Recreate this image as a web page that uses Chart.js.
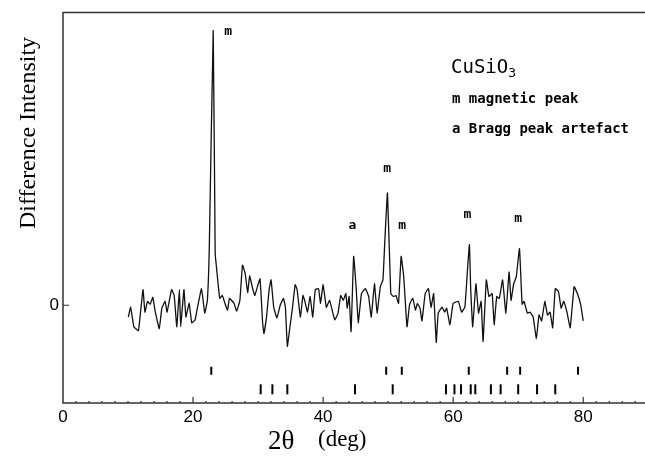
<!DOCTYPE html>
<html>
<head>
<meta charset="utf-8">
<script src="https://cdn.jsdelivr.net/npm/chart.js@4"></script>
<style>
  html, body { margin: 0; padding: 0; background: #fff; overflow: hidden; }
  canvas { display: block; }
</style>
</head>
<body>
<canvas id="chart-1" width="645" height="460"></canvas>
<script>
// 2theta (deg) and difference intensity (arbitrary units, 0 = baseline)
const twoTheta = [10.05, 10.4, 10.9, 11.6, 12.3, 12.6, 13.0, 13.4, 13.8, 14.2, 14.8, 15.2, 15.7, 16.0, 16.7, 17.1, 17.5, 17.9, 18.1, 18.6,
  18.9, 19.4, 19.8, 20.3, 20.6, 21.3, 21.8, 22.2, 22.5, 23.1, 23.4, 23.6, 24.1, 24.5, 24.9, 25.3, 25.6, 26.3, 26.7, 27.2,
  27.6, 28.0, 28.4, 28.7, 29.2, 29.5, 29.9, 30.3, 30.7, 30.9, 31.3, 31.7, 32.0, 32.4, 32.9, 33.4, 33.9, 34.2, 34.5, 34.9,
  35.3, 35.7, 36.0, 36.5, 36.9, 37.2, 37.6, 38.0, 38.4, 38.8, 39.3, 39.6, 40.0, 40.5, 41.0, 41.5, 41.8, 42.3, 42.7, 43.1,
  43.5, 43.7, 44.0, 44.3, 44.7, 45.1, 45.4, 45.9, 46.5, 47.0, 47.4, 47.9, 48.3, 48.8, 49.2, 49.5, 49.9, 50.4, 50.8, 51.2,
  51.6, 52.0, 52.4, 52.9, 53.3, 53.8, 54.2, 54.5, 54.9, 55.2, 55.7, 56.2, 56.6, 57.0, 57.4, 57.7, 58.3, 58.7, 59.0, 59.5,
  60.0, 60.8, 61.3, 61.8, 62.2, 62.5, 62.7, 63.0, 63.5, 63.9, 64.3, 64.6, 65.1, 65.5, 66.0, 66.3, 66.7, 67.1, 67.6, 68.1,
  68.6, 68.9, 69.3, 69.7, 70.2, 70.6, 70.9, 71.4, 71.8, 72.3, 72.8, 73.2, 73.6, 74.1, 74.5, 74.9, 75.3, 75.7, 76.2, 76.6,
  77.0, 77.5, 78.0, 78.6, 79.1, 79.6, 80.0];
const intensity = [-12, -2, -22, -26, 16, -7, 4, 1, 8, -7, -24, -3, 4, -7, 16, 10, -22, 16, -22, 16,
  -12, 2, -18, -15, -5, 17, -8, 5, 60, 281, 53, 39, 7, 10, 2, -5, 7, 2, -6, 5,
  41, 33, 13, 30, 16, 10, 19, 27, -18, -29, -12, 16, 26, -2, -13, 0, 7, -2, -42, -22,
  -2, 21, 16, -12, 10, 4, -7, 9, -12, 16, 17, 2, 21, -2, 5, -8, -15, -8, 10, 5,
  12, -3, 9, -27, 50, 16, -18, 12, 17, 9, -12, 22, -8, 19, 26, 67, 115, 12, 9, 10,
  2, 50, 29, -22, 1, 7, -5, 2, -3, -16, 12, 17, -2, 12, -38, -8, -2, -7, -3, -20,
  2, 4, -7, -2, 36, 62, 16, -22, 22, -8, 4, -37, 26, 9, 12, -20, 9, 7, 26, -8,
  34, 5, 22, 29, 58, 1, 4, -8, -7, -12, -34, -10, -16, 4, -10, -7, -23, 17, 14, -3,
  4, -7, -23, 19, 12, 1, -16];

// Reflection positions (deg): magnetic row and nuclear row
const magneticRefl = [22.8, 49.7, 52.1, 62.4, 68.3, 70.3, 79.2];
const braggRefl = [30.4, 32.2, 34.5, 44.9, 50.7, 58.9, 60.2, 61.2, 62.7, 63.4, 65.8, 67.3, 70.0, 72.9, 75.7];
const magneticRow = -67;
const braggRow = -86;

// peak annotations
const peakLabels = [
  { x: 25.4, y: 280, text: "m" },
  { x: 49.85, y: 140, text: "m" },
  { x: 52.15, y: 81, text: "m" },
  { x: 62.2, y: 93, text: "m" },
  { x: 70.0, y: 89, text: "m" },
  { x: 44.5, y: 81, text: "a" },
];

const xTickLabels = [0, 20, 40, 60, 80];
const yTickLabels = [0];

const axesPlugin = {
  id: "axes",
  afterDraw(chart) {
    const ctx = chart.ctx;
    const xs = chart.scales.x, ys = chart.scales.y;
    const a = chart.chartArea;
    ctx.save();
    ctx.strokeStyle = "#333";
    ctx.lineWidth = 1.5;
    ctx.beginPath();
    ctx.moveTo(a.left, a.top + 0.5);
    ctx.lineTo(a.right, a.top + 0.5);
    ctx.moveTo(a.left, a.top);
    ctx.lineTo(a.left, a.bottom);
    ctx.lineTo(a.right, a.bottom);
    ctx.stroke();

    // x ticks pointing inward
    ctx.lineWidth = 1.2;
    ctx.beginPath();
    for (let v = 2; v <= 88; v += 2) {
      const px = xs.getPixelForValue(v);
      const len = v % 20 === 0 ? 6 : 2;
      ctx.moveTo(px, a.bottom);
      ctx.lineTo(px, a.bottom - len);
    }
    for (const v of yTickLabels) {
      const py = ys.getPixelForValue(v);
      ctx.moveTo(a.left, py);
      ctx.lineTo(a.left + 6, py);
    }
    ctx.stroke();

    ctx.fillStyle = "#000";
    ctx.font = "17px 'Liberation Sans', Arial, sans-serif";
    ctx.textAlign = "center";
    ctx.textBaseline = "middle";
    for (const v of xTickLabels) {
      ctx.fillText(String(v), xs.getPixelForValue(v), a.bottom + 14);
    }
    ctx.textAlign = "right";
    for (const v of yTickLabels) {
      ctx.fillText(String(v), a.left - 4, ys.getPixelForValue(v));
    }

    // axis titles
    ctx.font = "24px 'Liberation Serif', 'Times New Roman', serif";
    ctx.textAlign = "center";
    ctx.save();
    ctx.translate(29, 133);
    ctx.rotate(-Math.PI / 2);
    ctx.fillText("Difference Intensity", 0, 0);
    ctx.restore();
    ctx.textAlign = "left";
    ctx.textBaseline = "alphabetic";
    ctx.font = "27px 'Liberation Serif', 'Times New Roman', serif";
    ctx.fillText("2\u03b8", 268, 449);
    ctx.font = "23px 'Liberation Serif', 'Times New Roman', serif";
    ctx.fillText("(deg)", 318, 446);

    // peak letters
    ctx.font = "bold 13px 'DejaVu Sans Mono', monospace";
    ctx.textAlign = "center";
    ctx.textBaseline = "middle";
    for (const p of peakLabels) {
      ctx.fillText(p.text, xs.getPixelForValue(p.x), ys.getPixelForValue(p.y));
    }

    // key
    ctx.textAlign = "left";
    ctx.textBaseline = "alphabetic";
    ctx.font = "19px 'DejaVu Sans Mono', monospace";
    ctx.fillText("CuSiO", 451, 73);
    const w = ctx.measureText("CuSiO").width;
    ctx.font = "13px 'DejaVu Sans Mono', monospace";
    ctx.fillText("3", 451 + w, 77);
    ctx.font = "bold 14px 'DejaVu Sans Mono', monospace";
    ctx.fillText("m magnetic peak", 452, 103);
    ctx.fillText("a Bragg peak artefact", 452, 133);
    ctx.restore();
  },
};

const ctx1 = document.getElementById("chart-1").getContext("2d");
const myChart = new Chart(ctx1, {
  type: "scatter",
  data: {
    datasets: [
      {
        label: "Difference",
        data: twoTheta.map((t, i) => ({ x: t, y: intensity[i] })),
        showLine: true,
        borderColor: "#111",
        borderWidth: 1.3,
        pointRadius: 0,
        tension: 0.1,
      },
      {
        label: "magnetic reflections",
        data: magneticRefl.map((t) => ({ x: t, y: magneticRow })),
        pointStyle: "line",
        rotation: 90,
        pointRadius: 4,
        borderColor: "#000",
        borderWidth: 2,
      },
      {
        label: "Bragg reflections",
        data: braggRefl.map((t) => ({ x: t, y: braggRow })),
        pointStyle: "line",
        rotation: 90,
        pointRadius: 5,
        borderColor: "#000",
        borderWidth: 2,
      },
    ],
  },
  options: {
    responsive: false,
    animation: false,
    layout: { autoPadding: false, padding: { left: 63, right: 0, top: 12, bottom: 57 } },
    plugins: { legend: { display: false }, tooltip: { enabled: false } },
    scales: {
      x: { type: "linear", min: 0, max: 89.5, display: false },
      y: { min: -100, max: 300, display: false },
    },
  },
  plugins: [axesPlugin],
});
</script>
</body>
</html>
